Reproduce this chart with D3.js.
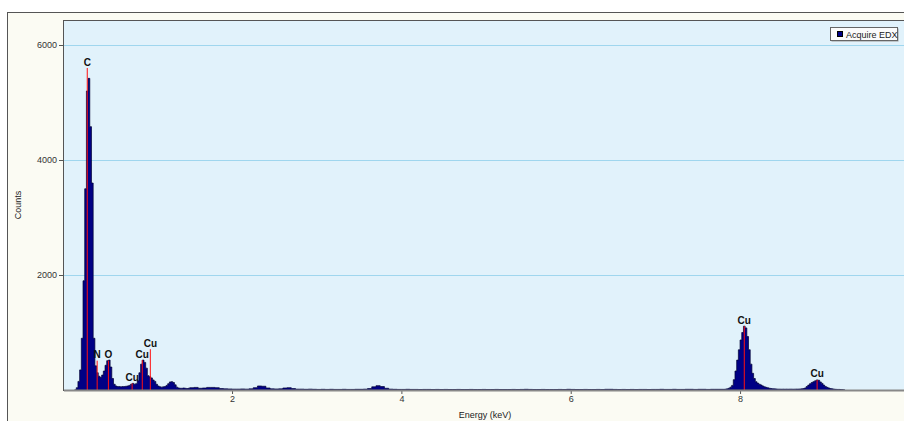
<!DOCTYPE html>
<html><head><meta charset="utf-8">
<script src="https://cdn.jsdelivr.net/npm/d3@7"></script>
<style>body{margin:0;background:#fff;} svg{display:block}</style>
</head><body>
<svg id="c" width="904" height="421"></svg>
<script>
// Spectrum data: channel calibration (start keV, step keV) and counts per channel
const segStartKeV = [0.14, 1.50, 7.80];
const segStepKeV  = [0.02, 0.05, 0.02];
const segCounts = [
  [0,40,150,350,900,1900,3500,5200,5420,4580,
   3600,900,420,300,240,220,260,330,430,510,
   520,400,200,100,70,60,60,55,60,60,
   65,70,80,100,115,100,110,160,300,450,
   520,480,380,250,230,210,175,150,100,70,
   55,50,55,60,80,110,140,145,130,90,
   50,35,30,30,35,30,25,30],
  [40,45,30,35,45,45,40,25,20,18,
   15,15,18,15,20,40,70,65,35,20,
   18,20,35,40,25,15,15,12,15,12,
   10,12,10,12,10,10,12,10,10,12,
   12,15,25,55,75,60,30,15,12,10,
   10,12,10,10,8,10,10,8,10,8,
   10,8,8,10,8,8,10,8,8,10,
   8,8,10,8,8,8,10,8,10,12,
   10,8,8,10,8,8,8,10,8,12,
   10,8,8,10,8,8,10,8,12,12,
   10,8,10,8,10,8,10,10,8,10,
   10,12,10,10,12,10,10,12,12,10,
   12,12,10,12,12,12],
  [12,15,20,30,50,80,180,330,520,700,
   870,1000,1110,1080,930,700,450,290,200,145,
   120,100,87,70,55,46,38,30,25,22,
   20,18,15,15,14,15,14,15,14,15,
   15,14,15,16,16,18,20,25,35,60,
   85,110,130,145,160,175,170,140,115,85,
   60,46,35,25,20,15,12,10,10,8,
   6,0]
];
const markerKeV    = [0.29, 0.407, 0.54, 0.82, 0.94, 1.035, 8.05, 8.91];
const markerCounts = [5600, 510, 510, 115, 520, 710, 1110, 175];
const markerLabels = ["C", "N", "O", "Cu", "Cu", "Cu", "Cu", "Cu"];
const yTicks = [2000, 4000, 6000];
const xTicks = [2, 4, 6, 8];
const seriesName = "Acquire EDX";
const xTitle = "Energy (keV)";
const yTitle = "Counts";

const W = 904, H = 421;
const L = 64, T = 20, B = 390, R = 920;
const svg = d3.select("#c");
const font = "'Liberation Sans', Arial, sans-serif";

const x = d3.scaleLinear().domain([0, 10]).range([62.7, 62.7 + 846.7]);
const y = d3.scaleLinear().domain([0, 6435]).range([B, T]);

const pts = [];
segCounts.forEach((arr, s) => {
  arr.forEach((c, i) => pts.push({e: segStartKeV[s] + i * segStepKeV[s], c}));
});
pts.push({e: pts[pts.length - 1].e + 0.02, c: 0});

// outer panel
svg.append("rect").attr("x", 0).attr("y", 0).attr("width", W).attr("height", H).attr("fill", "#ffffff");
svg.append("rect").attr("x", 7.5).attr("y", 12.5).attr("width", W + 20).attr("height", H + 20)
  .attr("fill", "#fbfbf3").attr("stroke", "#555").attr("stroke-width", 1);

// plot area
svg.append("rect").attr("x", L).attr("y", T).attr("width", R - L).attr("height", B - T).attr("fill", "#e1f2fb");

svg.append("defs").append("clipPath").attr("id", "pc").append("rect")
  .attr("x", L).attr("y", T).attr("width", R - L).attr("height", B - T);

// gridlines
svg.append("g").selectAll("line").data(yTicks).join("line")
  .attr("x1", L).attr("x2", R).attr("y1", d => Math.round(y(d)) + 0.5).attr("y2", d => Math.round(y(d)) + 0.5)
  .attr("stroke", "#9fd6ee").attr("stroke-width", 1);

// spectrum
const area = d3.area().curve(d3.curveStepAfter)
  .x(d => x(d.e)).y0(y(0)).y1(d => y(d.c));
svg.append("path").datum(pts).attr("clip-path", "url(#pc)")
  .attr("d", area).attr("fill", "#000085").attr("stroke", "#000033").attr("stroke-width", 0.7);

// markers
const mk = svg.append("g");
mk.selectAll("line").data(markerKeV).join("line")
  .attr("x1", d => x(d)).attr("x2", d => x(d))
  .attr("y1", y(0)).attr("y2", (d, i) => y(markerCounts[i]))
  .attr("stroke", "#ff1010").attr("stroke-width", 1);
mk.selectAll("text").data(markerKeV).join("text")
  .attr("x", d => x(d)).attr("y", (d, i) => y(markerCounts[i]) - 2.5)
  .attr("text-anchor", "middle").attr("font-family", font).attr("font-size", "10px")
  .attr("font-weight", "bold").attr("fill", "#111").text((d, i) => markerLabels[i]);

// axes
const yAxis = d3.axisLeft(y).tickValues(yTicks).tickSize(5).tickPadding(2).tickFormat(d3.format("d"));
const gy = svg.append("g").attr("transform", `translate(${L},0)`).call(yAxis);
gy.select(".domain").remove();
gy.selectAll(".tick line").attr("stroke", "#555");
gy.selectAll(".tick text").attr("font-family", font).attr("font-size", "9px").attr("fill", "#333");

const xAxis = d3.axisBottom(x).tickValues(xTicks).tickSize(4).tickPadding(2).tickFormat(d3.format("d"));
const gx = svg.append("g").attr("transform", `translate(0,${B})`).call(xAxis);
gx.select(".domain").remove();
gx.selectAll(".tick line").attr("stroke", "#555");
gx.selectAll(".tick text").attr("font-family", font).attr("font-size", "9px").attr("fill", "#333");

// borders
svg.append("line").attr("x1", L).attr("x2", W).attr("y1", B + 0.5).attr("y2", B + 0.5).attr("stroke", "#888").attr("stroke-width", 2);
svg.append("line").attr("x1", L - 0.5).attr("x2", L - 0.5).attr("y1", T).attr("y2", B + 1).attr("stroke", "#555").attr("stroke-width", 1);
svg.append("line").attr("x1", L).attr("x2", W).attr("y1", T + 0.5).attr("y2", T + 0.5).attr("stroke", "#555").attr("stroke-width", 1);

// titles
svg.append("text").attr("x", 485).attr("y", 418).attr("text-anchor", "middle")
  .attr("font-family", font).attr("font-size", "9px").attr("fill", "#222").text(xTitle);
svg.append("text").attr("transform", "translate(21,205) rotate(-90)").attr("text-anchor", "middle")
  .attr("font-family", font).attr("font-size", "9px").attr("fill", "#222").text(yTitle);

// legend
const lg = svg.append("g");
lg.append("rect").attr("x", 831.5).attr("y", 28.5).attr("width", 67).attr("height", 13)
  .attr("fill", "#999").attr("stroke", "none");
lg.append("rect").attr("x", 830.5).attr("y", 27.5).attr("width", 67).attr("height", 13)
  .attr("fill", "#fbfbfb").attr("stroke", "#666");
lg.append("rect").attr("x", 837.5).attr("y", 31.5).attr("width", 5).attr("height", 5)
  .attr("fill", "#000085").attr("stroke", "#000");
lg.append("text").attr("x", 846).attr("y", 37.5).attr("font-family", font).attr("font-size", "9px")
  .attr("fill", "#222").text(seriesName);
</script>
</body></html>
